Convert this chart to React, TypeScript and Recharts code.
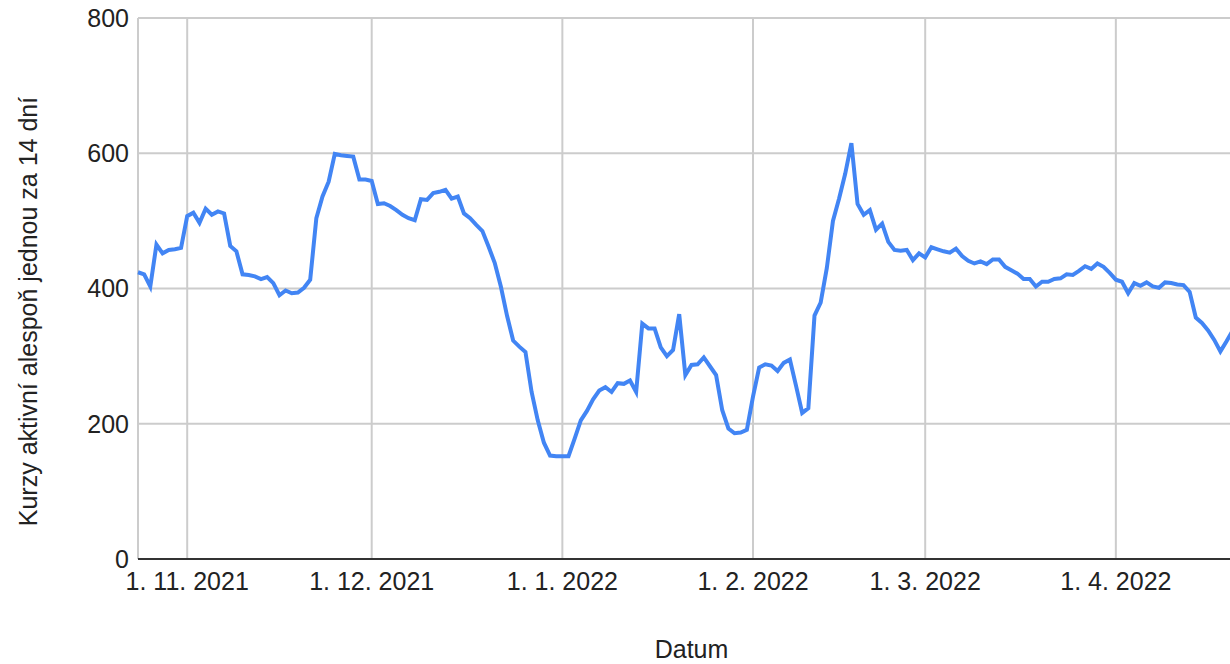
import React from 'react';
import { LineChart, Line, XAxis, YAxis, CartesianGrid, Label } from 'recharts';

const START_DATE = '2021-10-24';

const OCT_VALUES = [424, 421, 403, 465, 452, 457, 458, 460];
const NOV_VALUES = [
  507, 512, 497, 518, 509, 514, 511, 463, 455, 421,
  420, 418, 414, 417, 408, 390, 397, 393, 394, 401,
  413, 504, 536, 558, 599, 597, 596, 595, 561, 561,
];
const DEC_VALUES = [
  559, 525, 526, 522, 516, 509, 504, 501, 532, 531,
  541, 543, 546, 533, 536, 511, 504, 494, 485, 462,
  438, 403, 360, 323, 314, 306, 247, 205, 172, 153, 152,
];
const JAN_VALUES = [
  152, 152, 178, 205, 219, 236, 249, 254, 247, 260,
  259, 264, 247, 348, 341, 341, 313, 300, 309, 362,
  272, 287, 288, 298, 285, 272, 220, 193, 186, 187, 191,
];
const FEB_VALUES = [
  240, 283, 288, 286, 278, 290, 295, 256, 216, 223,
  360, 379, 430, 500, 533, 570, 615, 525, 509, 516,
  487, 496, 469, 457, 456, 457, 442, 452,
];
const MAR_VALUES = [
  446, 461, 458, 455, 453, 459, 448, 441, 437, 440,
  436, 443, 443, 432, 427, 422, 414, 414, 403, 410,
  410, 414, 415, 421, 420, 426, 433, 429, 437, 432, 423,
];
const APR_VALUES = [
  413, 410, 393, 408, 404, 409, 403, 401, 409, 408,
  406, 405, 395, 357, 349, 338, 324, 307, 322, 338,
  350, 354,
];

const TICK_DATES = ['2021-11-01', '2021-12-01', '2022-01-01', '2022-02-01', '2022-03-01', '2022-04-01'];
const TICK_LABELS = ['1. 11. 2021', '1. 12. 2021', '1. 1. 2022', '1. 2. 2022', '1. 3. 2022', '1. 4. 2022'];
const Y_TICKS = [0, 200, 400, 600, 800];

const SERIES_NAME = 'Kurzy aktivní alespoň jednou za 14 dní';
const X_TITLE = 'Datum';

const DAY_MS = 86400000;
const toTs = (s: string) => Date.parse(s + 'T00:00:00Z');

const ALL_VALUES = [
  ...OCT_VALUES, ...NOV_VALUES, ...DEC_VALUES, ...JAN_VALUES,
  ...FEB_VALUES, ...MAR_VALUES, ...APR_VALUES,
];
const data = ALL_VALUES.map((v, i) => ({ t: toTs(START_DATE) + i * DAY_MS, kurzy: v }));
const tickTs = TICK_DATES.map(toTs);

const FONT = "Arial, 'Liberation Sans', sans-serif";
const TEXT = '#222222';

export default function App() {
  return (
    <div style={{ position: 'fixed', left: 0, top: 0, width: 1230, height: 664, overflow: 'hidden', background: '#fff' }}>
      <LineChart
        width={1260}
        height={664}
        data={data}
        margin={{ top: 18, right: 15, bottom: 0, left: 0 }}
        style={{ fontFamily: FONT }}
      >
        <CartesianGrid stroke="#cccccc" strokeWidth={2} />
        <XAxis
          dataKey="t"
          type="number"
          scale="time"
          domain={[data[0].t, data[data.length - 1].t]}
          ticks={tickTs}
          tickFormatter={(t: number) => TICK_LABELS[tickTs.indexOf(t)] ?? ''}
          height={105}
          tickLine={false}
          tickSize={0}
          tickMargin={13}
          axisLine={{ stroke: '#333333', strokeWidth: 2 }}
          tick={{ fill: TEXT, fontSize: 25, fontFamily: FONT }}
          interval={0}
        >
          <Label
            content={(props: any) => {
              const vb = props.viewBox;
              return (
                <text
                  x={vb.x + vb.width / 2}
                  y={vb.y + 99}
                  textAnchor="middle"
                  fill={TEXT}
                  fontSize={25}
                  fontFamily={FONT}
                >
                  {X_TITLE}
                </text>
              );
            }}
          />
        </XAxis>
        <YAxis
          type="number"
          domain={[0, 800]}
          ticks={Y_TICKS}
          width={138}
          tickLine={false}
          tickSize={0}
          tickMargin={9}
          axisLine={false}
          tick={{ fill: TEXT, fontSize: 25, fontFamily: FONT }}
        >
          <Label
            content={(props: any) => {
              const vb = props.viewBox;
              const x = 28;
              const y = vb.y + vb.height / 2 + 23;
              return (
                <text
                  x={x}
                  y={y}
                  transform={`rotate(-90, ${x}, ${y})`}
                  textAnchor="middle"
                  dominantBaseline="central"
                  fill={TEXT}
                  fontSize={25}
                  fontFamily={FONT}
                >
                  {SERIES_NAME}
                </text>
              );
            }}
          />
        </YAxis>
        <Line
          type="linear"
          dataKey="kurzy"
          stroke="#4285f4"
          strokeWidth={4}
          dot={false}
          activeDot={false}
          isAnimationActive={false}
        />
      </LineChart>
    </div>
  );
}
